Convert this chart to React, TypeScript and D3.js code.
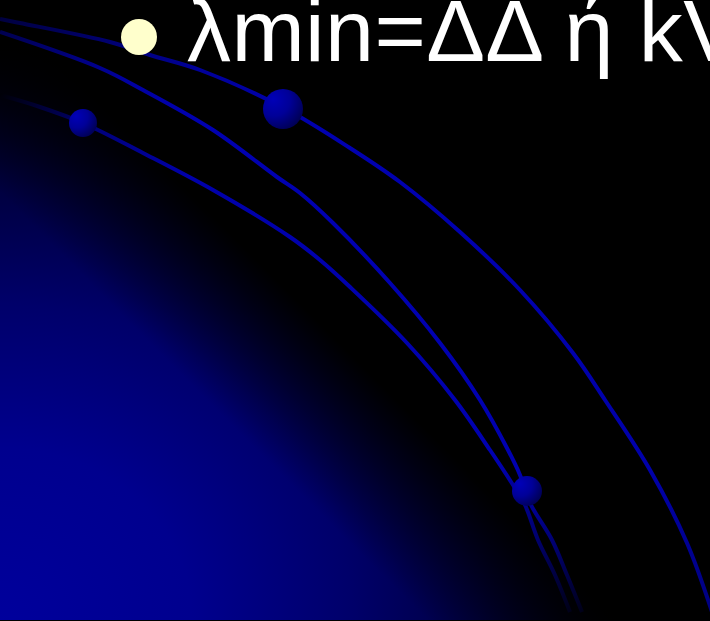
import React from "react";
import * as d3 from "d3";

const W = 710;
const H = 621;

// curve paths (x, y)
const curveA: [number, number][] = [
  [0, 19], [20, 23], [110, 42], [150, 55], [200, 70], [284, 108], [350, 148], [400, 182],
  [460, 232], [520, 290], [573, 353], [605, 400], [650, 470], [687, 543], [712, 612],
];
const curveB: [number, number][] = [
  [0, 32], [100, 68], [143, 90], [213, 130], [277, 177], [300, 193], [333, 223], [390, 283],
  [440, 343], [480, 400], [508, 450], [520, 475], [530, 503], [552, 540], [567, 575], [582, 612],
];
const curveC: [number, number][] = [
  [0, 95], [40, 107], [83, 123], [143, 153], [213, 190], [290, 237], [320, 260], [350, 287],
  [407, 343], [455, 400], [490, 450], [513, 485], [525, 505], [538, 540], [555, 575], [570, 612],
];

const spheres = [
  { x: 283, y: 109, r: 20 },
  { x: 83, y: 123, r: 14 },
  { x: 527, y: 491, r: 15 },
];

const bullet = { x: 139, y: 37, r: 18 };
const titleText = "λmin=ΔΔ ή kV";

export default function App() {
  const line = d3.line<[number, number]>().curve(d3.curveCatmullRom.alpha(0.5));
  return (
    <svg
      width={W}
      height={H}
      style={{ position: "absolute", left: 0, top: 0, display: "block" }}
    >
      <defs>
        <radialGradient
          id="bg"
          gradientUnits="userSpaceOnUse"
          cx={0}
          cy={621}
          r={640}
          gradientTransform="translate(0 621) scale(1 0.9) translate(0 -621)"
        >
          <stop offset="0" stopColor="#00009c" />
          <stop offset="0.3" stopColor="#00008e" />
          <stop offset="0.55" stopColor="#00006a" />
          <stop offset="0.75" stopColor="#000040" />
          <stop offset="0.9" stopColor="#000018" />
          <stop offset="1" stopColor="#000000" />
        </radialGradient>
        <linearGradient id="mask" gradientUnits="userSpaceOnUse" x1={330} y1={333} x2={235} y2={428}>
          <stop offset="0" stopColor="#000" stopOpacity={1} />
          <stop offset="1" stopColor="#000" stopOpacity={0} />
        </linearGradient>
        <linearGradient id="gA" gradientUnits="userSpaceOnUse" x1={0} y1={19} x2={712} y2={612}>
          <stop offset="0" stopColor="#000040" />
          <stop offset="0.2" stopColor="#00009a" />
          <stop offset="0.35" stopColor="#0000b0" />
          <stop offset="0.85" stopColor="#0000aa" />
          <stop offset="1" stopColor="#000080" />
        </linearGradient>
        <linearGradient id="gB" gradientUnits="userSpaceOnUse" x1={0} y1={32} x2={582} y2={612}>
          <stop offset="0" stopColor="#000050" />
          <stop offset="0.15" stopColor="#0000a0" />
          <stop offset="0.25" stopColor="#0000b0" />
          <stop offset="0.82" stopColor="#0000b0" />
          <stop offset="0.92" stopColor="#000070" />
          <stop offset="1" stopColor="#000018" />
        </linearGradient>
        <linearGradient id="gC" gradientUnits="userSpaceOnUse" x1={0} y1={95} x2={570} y2={612}>
          <stop offset="0" stopColor="#000008" />
          <stop offset="0.12" stopColor="#00007a" />
          <stop offset="0.25" stopColor="#0000aa" />
          <stop offset="0.8" stopColor="#0000b0" />
          <stop offset="0.9" stopColor="#000070" />
          <stop offset="1" stopColor="#000018" />
        </linearGradient>
        <radialGradient id="sph" cx="0.3" cy="0.3" r="0.8" fx="0.25" fy="0.25">
          <stop offset="0" stopColor="#0000b8" />
          <stop offset="0.5" stopColor="#000098" />
          <stop offset="1" stopColor="#000050" />
        </radialGradient>
      </defs>
      <rect x={0} y={0} width={W} height={H} fill="#000" />
      <rect x={0} y={0} width={W} height={H} fill="url(#bg)" />
      <rect x={0} y={0} width={W} height={H} fill="url(#mask)" />
      <path d={line(curveA) || ""} fill="none" stroke="url(#gA)" strokeWidth={4} />
      <path d={line(curveB) || ""} fill="none" stroke="url(#gB)" strokeWidth={4} />
      <path d={line(curveC) || ""} fill="none" stroke="url(#gC)" strokeWidth={4} />
      {spheres.map((s, i) => (
        <circle key={i} cx={s.x} cy={s.y} r={s.r} fill="url(#sph)" />
      ))}
      <circle cx={bullet.x} cy={bullet.y} r={bullet.r} fill="#ffffcc" />
      <text
        x={187}
        y={61}
        fill="#ffffff"
        fontFamily="'Liberation Sans', Arial, sans-serif"
        fontSize={88}
        letterSpacing={0.4}
      >
        {titleText}
      </text>
      <rect x={0} y={620} width={W} height={1} fill="#000" />
    </svg>
  );
}
